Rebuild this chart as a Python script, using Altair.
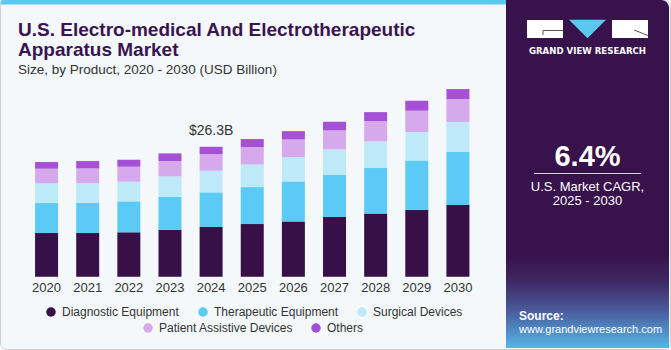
import altair as alt
import pandas as pd

# ---- data ----
years = [2020, 2021, 2022, 2023, 2024, 2025, 2026, 2027, 2028, 2029, 2030]
categories = ["Diagnostic Equipment", "Therapeutic Equipment", "Surgical Devices",
              "Patient Assistive Devices", "Others"]
diagnostic = [8.83, 8.83, 8.97, 9.51, 10.05, 10.65, 11.19, 12.07, 12.81, 13.55, 14.50]
therapeutic = [6.07, 6.14, 6.27, 6.61, 7.01, 7.48, 8.09, 8.50, 9.17, 9.98, 10.79]
surgical = [3.98, 3.98, 3.98, 4.18, 4.38, 4.59, 4.92, 5.19, 5.39, 5.73, 6.00]
patient = [2.97, 2.97, 3.03, 3.10, 3.37, 3.51, 3.57, 3.84, 4.11, 4.32, 4.65]
others = [1.35, 1.48, 1.42, 1.55, 1.48, 1.62, 1.69, 1.75, 1.82, 2.02, 2.02]
colors = ["#371047", "#5BCBF5", "#BDE9F9", "#D5A9EC", "#A550D6"]
annot_year = 2024
annot_text = "$26.3B"

series = [diagnostic, therapeutic, surgical, patient, others]
rows = []
for ci, (cat, vals) in enumerate(zip(categories, series)):
    for y, v in zip(years, vals):
        rows.append({"year": y, "category": cat, "value": v, "order": ci})
df = pd.DataFrame(rows)
totals = pd.DataFrame({"year": years,
                       "total": [sum(s[i] for s in series) for i in range(len(years))]})

FONT = "Liberation Sans"
W, H = 671, 350

xscale = alt.Scale(domain=[2019.5, 2030.5], range=[21, 483.5], nice=False, zero=False)
yscale = alt.Scale(domain=[0, 40], range=[276.7, 79], nice=False)
color_scale = alt.Scale(domain=categories, range=colors)


def rect(x, x2, y, y2, **kw):
    return alt.Chart(pd.DataFrame({"a": [0]})).mark_rect(**kw).encode(
        x=alt.value(x), x2=alt.value(x2), y=alt.value(y), y2=alt.value(y2))


def text(t, x, y, font=FONT, **kw):
    return alt.Chart(pd.DataFrame({"t": [t]})).mark_text(font=font, **kw).encode(
        x=alt.value(x), y=alt.value(y), text="t:N")


layers = []
# card
layers.append(rect(0.5, 670.5, 0.5, 349.5, fill="#F4F8FB", stroke="#CFCFCF", strokeWidth=1, cornerRadius=6))
layers.append(rect(0.5, 508, 0, 4.5, fill="#5BC8F0", cornerRadiusTopLeft=5))
# right panel
layers.append(rect(506, 669, 0, 348, fill="#38124A", cornerRadiusTopRight=8))
grad = alt.LinearGradient(gradient="linear", x1=0, y1=0, x2=0, y2=1, stops=[
    alt.GradientStop(color="#38124A", offset=0),
    alt.GradientStop(color="#402A66", offset=0.3),
    alt.GradientStop(color="#4A5C9C", offset=0.6),
    alt.GradientStop(color="#55B6E6", offset=1)])
layers.append(rect(506, 669, 255, 348, color=grad))

# logo
layers.append(rect(527, 563, 20, 38, fill="white"))
layers.append(rect(612, 648, 20, 38, fill="white"))
layers.append(alt.Chart(pd.DataFrame({"a": [0]})).mark_point(
    shape="M-1,-0.5L1,-0.5L0,0.5Z", size=37 * 37, filled=True, color="#5BC8F0", opacity=1).encode(
    x=alt.value(587.5), y=alt.value(29)))
layers.append(alt.Chart(pd.DataFrame({"a": [0]})).mark_rule(color="#555", strokeWidth=1).encode(
    x=alt.value(543), x2=alt.value(563), y=alt.value(30.5), y2=alt.value(30.5)))
layers.append(alt.Chart(pd.DataFrame({"a": [0]})).mark_rule(color="#555", strokeWidth=1).encode(
    x=alt.value(543), x2=alt.value(543), y=alt.value(30.5), y2=alt.value(35)))
layers.append(alt.Chart(pd.DataFrame({"a": [0]})).mark_rule(color="#555", strokeWidth=1).encode(
    x=alt.value(634), x2=alt.value(648), y=alt.value(30), y2=alt.value(35.5)))
layers.append(text("GRAND VIEW RESEARCH", 587.5, 54, font="DejaVu Sans", fontSize=8.6, fontWeight="bold",
                   color="white", align="center", baseline="alphabetic"))

# CAGR
layers.append(text("6.4%", 587.5, 166, fontSize=29, fontWeight="bold", color="white", align="center",
                   baseline="alphabetic"))
layers.append(alt.Chart(pd.DataFrame({"a": [0]})).mark_rule(color="#D8D0E0", strokeWidth=1.2).encode(
    x=alt.value(534), x2=alt.value(641), y=alt.value(173.5), y2=alt.value(173.5)))
layers.append(text("U.S. Market CAGR,", 587.5, 191, fontSize=13, color="white", align="center",
                   baseline="alphabetic"))
layers.append(text("2025 - 2030", 587.5, 205, fontSize=13, color="white", align="center",
                   baseline="alphabetic"))
layers.append(text("Source:", 519, 320, fontSize=12, fontWeight="bold", color="white", align="left",
                   baseline="alphabetic"))
layers.append(text("www.grandviewresearch.com", 519, 333, fontSize=11, color="white", align="left",
                   baseline="alphabetic"))

# titles
layers.append(text("U.S. Electro-medical And Electrotherapeutic", 18, 36, fontSize=19, fontWeight="bold",
                   color="#3A1450", align="left", baseline="alphabetic"))
layers.append(text("Apparatus Market", 18, 56, fontSize=19, fontWeight="bold", color="#3A1450", align="left",
                   baseline="alphabetic"))
layers.append(text("Size, by Product, 2020 - 2030 (USD Billion)", 18, 74, fontSize=13.5, color="#333333",
                   align="left", baseline="alphabetic"))

# bars
bars = alt.Chart(df).mark_bar(size=23).encode(
    x=alt.X("year:Q", scale=xscale, axis=None),
    y=alt.Y("value:Q", stack="zero", scale=yscale, axis=None),
    color=alt.Color("category:N", scale=color_scale, legend=None),
    order=alt.Order("order:Q", sort="ascending"),
)
layers.append(bars)

# year labels
year_labels = alt.Chart(pd.DataFrame({"year": years})).mark_text(
    font=FONT, fontSize=13, color="#333333", baseline="alphabetic").encode(
    x=alt.X("year:Q", scale=xscale, axis=None),
    y=alt.value(292),
    text=alt.Text("year:Q", format="d"))
layers.append(year_labels)

# annotation
annot = alt.Chart(totals[totals["year"] == annot_year]).mark_text(
    font=FONT, fontSize=14, color="#333333", dy=-12, baseline="alphabetic").encode(
    x=alt.X("year:Q", scale=xscale, axis=None),
    y=alt.Y("total:Q", scale=yscale, axis=None),
    text=alt.value(annot_text))
layers.append(annot)

# legend
legend_pos = [(51, 312), (203, 312), (362, 312), (148, 328), (316, 328)]
for cat, col, (lx, ly) in zip(categories, colors, legend_pos):
    layers.append(alt.Chart(pd.DataFrame({"a": [0]})).mark_circle(size=90, color=col, opacity=1).encode(
        x=alt.value(lx), y=alt.value(ly)))
    layers.append(text(cat, lx + 11, ly, fontSize=12, color="#333333", align="left", baseline="middle"))

chart = alt.layer(*layers).properties(
    width=W, height=H, padding=0, autosize="none", background="white"
).configure_view(stroke=None)

chart.save("out.html", embed_options={"renderer": "svg", "actions": False})
